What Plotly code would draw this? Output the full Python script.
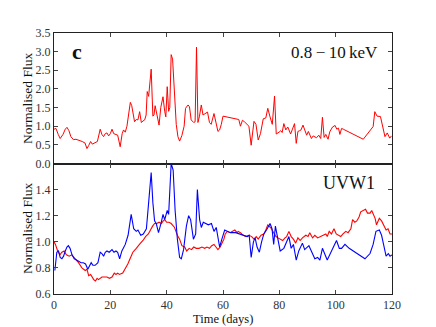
import plotly.graph_objects as go
from plotly.subplots import make_subplots

# X-ray light curve (top panel)
xray_days = [0, 0.7, 1.5, 2.2, 3.2, 4.0, 4.6, 5.3, 6.0, 6.9, 7.8, 8.8, 10.0, 11.0, 11.7, 12.3, 13.0, 13.6,
             14.3, 15.4, 16.4, 17.0, 17.6, 18.2, 18.8, 19.4, 20.0, 20.6, 21.2, 22.0, 22.6, 23.5, 24.2, 24.7,
             25.3, 25.9, 26.5, 27.1, 27.6, 28.1, 28.6, 29.2, 29.8, 30.4, 31.0, 31.6, 32.2, 32.7, 33.1, 33.6,
             34.1, 34.5, 35.1, 35.5, 35.9, 36.5, 37.3, 37.9, 38.7, 39.3, 39.7, 40.2, 40.7, 41.1, 41.6, 42.1,
             42.8, 43.4, 44.0, 44.6, 45.4, 46.2, 46.7, 47.6, 48.1, 48.7, 49.6, 50.1, 50.6, 51.1, 51.6, 52.3,
             52.9, 53.4, 54.0, 54.5, 55.2, 55.8, 56.8, 57.5, 58.2, 58.8, 59.4, 60.0, 60.8, 61.6, 62.6, 63.9,
             65.0, 65.6, 66.2, 66.9, 67.6, 68.4, 69.2, 70.0, 71.0, 71.7, 72.5, 73.3, 74.3, 75.2, 75.9, 76.7,
             77.5, 78.3, 78.9, 79.9, 80.5, 81.0, 81.6, 82.3, 83.0, 84.0, 84.8, 85.4, 86.0, 86.6, 87.2, 87.7,
             88.4, 89.0, 89.7, 90.3, 91.0, 91.4, 92.0, 92.6, 93.2, 94.0, 94.7, 95.3, 95.9, 96.5, 97.3, 97.9,
             98.9, 99.8, 100.4, 101.0, 101.5, 102.1, 102.7, 109.8, 111.5, 113.3, 113.9, 114.7, 115.9, 116.6,
             117.5, 118.3, 119.2, 119.8]
xray_flux = [0.92, 0.94, 0.78, 0.67, 0.78, 0.92, 0.97, 0.88, 0.72, 0.64, 0.65, 0.63, 0.59, 0.55, 0.40, 0.48,
             0.59, 0.52, 0.55, 0.59, 0.92, 0.78, 0.72, 0.80, 0.82, 0.74, 0.80, 0.92, 0.80, 0.78, 0.76, 0.45,
             0.80, 0.90, 0.84, 1.00, 1.35, 1.64, 1.55, 1.35, 1.12, 1.18, 1.17, 1.39, 1.10, 1.14, 1.17, 1.30,
             1.93, 1.80, 2.30, 2.53, 1.27, 1.30, 1.55, 1.35, 1.03, 1.50, 1.79, 1.40, 1.25, 2.06, 1.40, 1.50,
             2.92, 2.80, 1.70, 1.05, 0.72, 0.60, 0.75, 1.00, 1.48, 1.57, 1.52, 1.17, 1.10, 1.12, 3.12, 1.10,
             1.25, 1.57, 1.30, 1.33, 1.36, 1.38, 1.10, 1.05, 1.34, 1.10, 0.86, 0.90, 1.05, 1.27, 1.26, 1.24,
             1.23, 1.22, 1.20, 1.18, 1.00, 1.16, 1.12, 1.05, 1.00, 0.49, 1.13, 1.05, 0.63, 0.80, 1.20, 1.22,
             1.48, 1.25, 1.05, 1.81, 0.79, 0.84, 0.88, 0.83, 1.07, 0.90, 0.98, 0.79, 0.95, 1.07, 0.54, 0.86,
             0.88, 0.90, 1.03, 0.88, 0.76, 0.86, 0.76, 0.67, 0.74, 0.72, 0.69, 0.76, 0.67, 1.24, 0.70, 0.78,
             0.65, 0.85, 0.98, 1.02, 0.92, 0.95, 0.78, 0.94, 0.92, 0.65, 0.82, 0.99, 1.39, 1.27, 1.26, 1.05,
             0.72, 0.82, 0.68, 0.74]

# UVW1 (bottom panel, blue)
uv_days = [0.3, 1.0, 1.6, 2.2, 2.8, 3.4, 4.0, 4.6, 5.1, 5.7, 6.4, 7.2, 8.0, 8.8, 9.6, 10.4, 11.2, 12.0, 12.6,
           13.2, 13.8, 14.6, 15.6, 16.4, 17.0, 17.6, 18.2, 18.8, 19.6, 20.6, 21.3, 22.0, 22.6, 23.3, 24.1,
           25.3, 26.3, 27.4, 28.3, 29.2, 29.8, 30.8, 31.7, 32.8, 33.6, 34.5, 35.1, 35.7, 36.3, 37.1, 38.1,
           38.7, 39.3, 40.2, 40.7, 41.6, 42.3, 43.0, 43.8, 44.6, 45.2, 46.0, 47.0, 47.8, 48.5, 49.5, 50.3,
           50.9, 51.7, 52.3, 53.0, 54.0, 54.8, 55.9, 56.8, 57.6, 58.2, 58.8, 59.6, 60.6, 61.5, 62.7, 64.5,
           66.2, 67.4, 68.6, 69.3, 70.0, 70.8, 71.4, 72.1, 72.9, 73.7, 74.5, 75.7, 76.7, 77.4, 78.0, 78.6,
           79.3, 80.3, 81.6, 82.5, 83.4, 84.2, 85.0, 86.0, 86.9, 88.2, 89.0, 90.5, 91.6, 92.6, 93.6, 94.4,
           95.3, 96.1, 97.0, 97.9, 99.1, 100.3, 101.3, 102.1, 103.3, 104.8, 110.4, 112.2, 113.3, 114.3,
           115.5, 116.3, 117.0, 117.9, 118.7, 119.3, 120.0]
uv_flux = [0.78, 0.92, 0.93, 0.88, 0.87, 0.89, 0.93, 0.96, 0.97, 0.95, 0.90, 0.87, 0.86, 0.85, 0.84, 0.84,
           0.83, 0.79, 0.82, 0.84, 0.82, 0.82, 0.84, 0.92, 0.91, 0.89, 0.92, 0.93, 0.92, 0.94, 0.92, 0.93,
           0.92, 0.87, 0.93, 0.98, 1.05, 1.21, 1.10, 1.08, 1.09, 1.05, 1.06, 1.10, 1.30, 1.53, 1.30, 1.16,
           1.14, 1.07, 1.15, 1.21, 1.17, 1.24, 1.21, 1.60, 1.55, 1.24, 1.02, 0.88, 0.87, 0.94, 1.12, 1.20,
           1.17, 1.02, 1.06, 1.40, 1.17, 1.11, 1.15, 1.14, 1.13, 1.14, 1.08, 1.11, 1.02, 0.96, 1.02, 1.09,
           1.08, 1.07, 1.07, 1.06, 1.05, 1.04, 1.05, 0.88, 1.00, 1.03, 0.96, 0.92, 1.00, 1.06, 1.10, 1.14,
           1.10, 0.98, 1.12, 1.03, 0.93, 0.95, 1.00, 1.04, 0.95, 0.98, 0.86, 0.93, 0.99, 0.94, 0.97, 0.91,
           0.87, 0.88, 0.86, 0.95, 0.91, 0.86, 0.90, 0.96, 1.01, 0.95, 0.95, 0.98, 0.95, 0.87, 0.91, 0.98,
           1.08, 1.09, 1.05, 0.98, 0.89, 0.91, 0.89, 0.90]

# X-ray comparison curve (bottom panel, red)
xr2_days = [0.0, 0.5, 1.3, 2.1, 2.8, 3.6, 4.4, 5.4, 6.3, 7.5, 8.7, 9.9, 11.1, 11.7, 12.3, 13.0, 13.5, 14.1,
            14.7, 15.3, 15.8, 16.4, 17.0, 17.9, 18.8, 19.7, 20.6, 21.4, 22.0, 22.6, 23.2, 24.4, 25.3, 26.2,
            27.0, 28.0, 29.2, 30.1, 30.7, 31.6, 32.5, 33.5, 34.4, 35.0, 35.7, 36.5, 37.3, 38.1, 38.8, 39.3,
            40.0, 40.8, 41.6, 42.3, 42.8, 43.8, 44.6, 45.4, 46.4, 47.1, 48.0, 48.8, 49.6, 50.5, 51.5, 52.5,
            53.5, 54.3, 55.2, 56.0, 56.8, 57.5, 58.2, 59.0, 59.8, 60.3, 60.8, 61.5, 62.5, 63.4, 64.2, 65.0,
            65.4, 66.2, 67.2, 68.2, 69.2, 70.2, 71.0, 71.8, 72.5, 73.5, 74.5, 75.2, 75.9, 76.4, 77.2, 78.0,
            78.8, 79.5, 80.3, 81.2, 82.0, 82.6, 83.4, 84.2, 85.0, 85.8, 86.6, 87.4, 88.2, 89.4, 90.2, 90.8,
            91.8, 92.6, 93.6, 94.4, 95.3, 96.5, 97.0, 97.7, 98.5, 99.4, 100.2, 101.0, 101.8, 102.6, 103.6,
            104.4, 105.4, 106.0, 106.8, 107.5, 108.3, 108.9, 109.8, 110.6, 111.3, 112.2, 112.8, 113.4, 114.0,
            114.5, 115.5, 116.3, 117.1, 117.9, 118.6, 119.3, 120.0]
xr2_flux = [1.00, 0.98, 0.93, 0.90, 0.92, 0.93, 0.90, 0.89, 0.90, 0.87, 0.84, 0.80, 0.78, 0.79, 0.74, 0.75,
            0.73, 0.71, 0.70, 0.72, 0.71, 0.72, 0.73, 0.73, 0.73, 0.72, 0.73, 0.76, 0.75, 0.76, 0.75, 0.76,
            0.79, 0.83, 0.87, 0.92, 0.95, 0.98, 0.99, 1.01, 1.04, 1.06, 1.10, 1.12, 1.14, 1.14, 1.15, 1.14,
            1.16, 1.17, 1.15, 1.15, 1.14, 1.12, 1.11, 1.05, 1.02, 0.97, 0.96, 0.93, 0.95, 0.94, 0.96, 0.95,
            0.95, 0.96, 0.95, 0.96, 0.95, 0.97, 0.98, 0.96, 0.94, 0.96, 0.99, 1.02, 1.06, 1.08, 1.07, 1.08,
            1.09, 1.07, 1.08, 1.07, 1.05, 1.04, 1.05, 1.04, 1.02, 1.04, 1.02, 1.05, 1.06, 1.09, 1.13, 1.12,
            1.10, 1.07, 1.04, 1.03, 1.02, 1.01, 1.03, 1.04, 1.08, 1.04, 1.02, 0.99, 1.03, 1.01, 1.03, 1.05,
            1.04, 1.07, 1.03, 1.05, 1.03, 1.04, 1.05, 1.06, 1.04, 1.08, 1.06, 1.10, 1.06, 1.05, 1.04, 1.06,
            1.08, 1.07, 1.10, 1.17, 1.15, 1.16, 1.19, 1.23, 1.24, 1.25, 1.22, 1.22, 1.24, 1.21, 1.18, 1.13,
            1.18, 1.16, 1.13, 1.09, 1.10, 1.06, 1.06]

FONT = "Liberation Serif, serif"
TXT = "#111"

fig = make_subplots(rows=2, cols=1, shared_xaxes=True, vertical_spacing=0)
fig.add_trace(go.Scatter(x=xray_days, y=xray_flux, mode="lines",
                         line=dict(color="#ff0000", width=1)), row=1, col=1)
fig.add_trace(go.Scatter(x=xr2_days, y=xr2_flux, mode="lines",
                         line=dict(color="#ff0000", width=1.1)), row=2, col=1)
fig.add_trace(go.Scatter(x=uv_days, y=uv_flux, mode="lines",
                         line=dict(color="#0000ff", width=1.1)), row=2, col=1)

axis_style = dict(showline=True, linecolor="#222", linewidth=1, mirror="allticks",
                  ticks="inside", ticklen=4, tickcolor="#444", showgrid=False, zeroline=False,
                  automargin=False, tickfont=dict(family=FONT, size=12, color="#333"))

fig.update_xaxes(range=[0, 120], tickvals=[0, 20, 40, 60, 80, 100, 120], **axis_style)
fig.update_xaxes(showticklabels=False, row=1, col=1)
fig.update_yaxes(**axis_style)
fig.update_yaxes(range=[0, 3.5], tickvals=[0, 0.5, 1, 1.5, 2, 2.5, 3, 3.5],
                 ticktext=["0.0", "0.5", "1.0", "1.5", "2.0", "2.5", "3.0", "3.5"], row=1, col=1)
fig.update_yaxes(range=[0.6, 1.6], tickvals=[0.6, 0.8, 1.0, 1.2, 1.4, 1.6],
                 ticktext=["0.6", "0.8", "1.0", "1.2", "1.4", ""], row=2, col=1)

# axis titles placed as paper annotations to keep the plot area fixed
for ty in (0.751, 0.253):
    fig.add_annotation(x=-0.077, y=ty, xref="paper", yref="paper", text="Normalised Flux",
                       textangle=-90, showarrow=False, xanchor="center", yanchor="middle",
                       font=dict(family=FONT, size=13.5, color=TXT))
fig.add_annotation(x=0.5, y=-0.097, xref="paper", yref="paper", text="Time (days)",
                   showarrow=False, xanchor="center", yanchor="middle",
                   font=dict(family=FONT, size=12.5, color=TXT))

fig.add_annotation(x=5.6, y=3.0, xref="x", yref="y", text="<b>c</b>", showarrow=False,
                   xanchor="left", yanchor="middle", font=dict(family=FONT, size=22, color=TXT))
fig.add_annotation(x=115.7, y=2.97, xref="x", yref="y", text="0.8\u2009\u2212\u200910\u2009keV",
                   showarrow=False, xanchor="right", yanchor="middle",
                   font=dict(family=FONT, size=17, color=TXT))
fig.add_annotation(x=114.5, y=1.45, xref="x2", yref="y2", text="UVW1", showarrow=False,
                   xanchor="right", yanchor="middle", font=dict(family=FONT, size=18, color=TXT))

# the page body adds an 8px offset, so the figure is sized to sit inside the window
fig.update_layout(width=428, height=319, showlegend=False,
                  margin=dict(l=46, r=44, t=25, b=33),
                  paper_bgcolor="white", plot_bgcolor="white")
fig.write_html("out.html")
